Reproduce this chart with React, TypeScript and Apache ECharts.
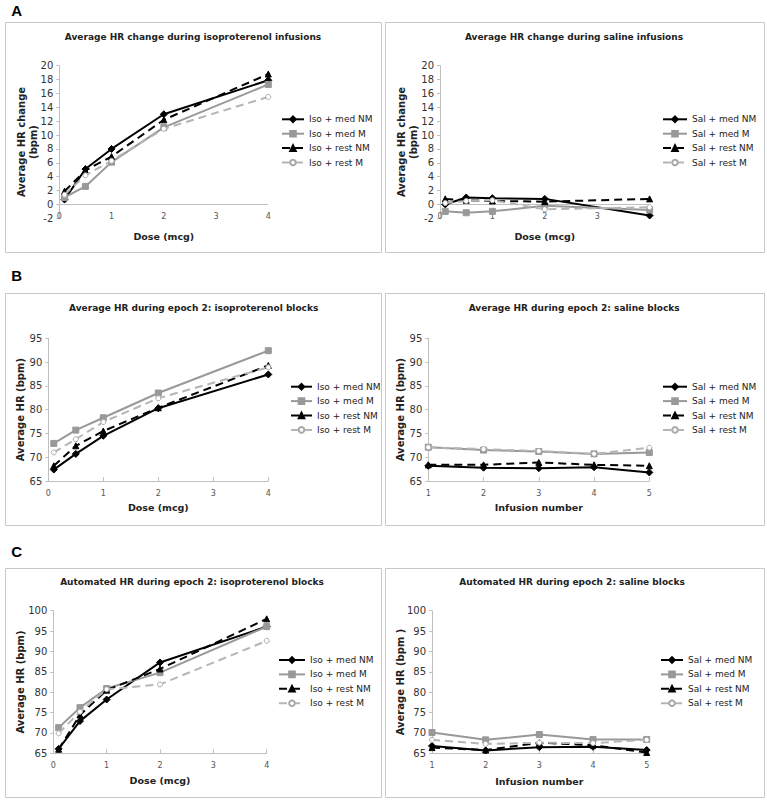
import React, { useEffect, useRef } from "react";
import * as echarts from "echarts";

// ---------- data ----------
const doseX = [0.1, 0.5, 1, 2, 4];
const infusionX = [1, 2, 3, 4, 5];

const isoNames = ["Iso + med NM", "Iso + med M", "Iso + rest NM", "Iso + rest M"];
const salNames = ["Sal + med NM", "Sal + med M", "Sal + rest NM", "Sal + rest M"];

// A: average HR change
const isoChangeMedNM = [0.7, 5.1, 8.0, 13.0, 17.9];
const isoChangeMedM = [1.0, 2.6, 6.1, 11.1, 17.3];
const isoChangeRestNM = [1.9, 4.9, 6.9, 12.2, 18.8];
const isoChangeRestM = [1.4, 4.2, 6.3, 10.9, 15.5];

const salChangeMedNM = [0.0, 1.0, 0.9, 0.8, -1.6];
const salChangeMedM = [-1.0, -1.2, -1.0, -0.2, -0.8];
const salChangeRestNM = [0.8, 0.6, 0.5, 0.4, 0.8];
const salChangeRestM = [0.2, 0.5, 0.6, -0.7, -0.4];

// B: average HR during epoch 2
const isoHRMedNM = [67.4, 70.7, 74.5, 80.3, 87.4];
const isoHRMedM = [72.9, 75.7, 78.3, 83.5, 92.4];
const isoHRRestNM = [68.2, 72.4, 75.5, 80.4, 89.3];
const isoHRRestM = [71.0, 73.8, 77.4, 82.4, 88.9];

const salHRMedNM = [68.2, 67.8, 67.7, 67.9, 66.8];
const salHRMedM = [72.1, 71.5, 71.2, 70.7, 71.0];
const salHRRestNM = [68.4, 68.4, 68.9, 68.4, 68.2];
const salHRRestM = [72.1, 71.7, 71.3, 70.7, 72.0];

// C: automated HR during epoch 2
const autoIsoMedNM = [66.1, 72.9, 78.2, 87.3, 96.1];
const autoIsoMedM = [71.3, 76.2, 80.9, 84.8, 96.1];
const autoIsoRestNM = [66.0, 74.4, 80.5, 85.7, 98.0];
const autoIsoRestM = [69.9, 75.2, 80.7, 81.9, 92.6];

const autoSalMedNM = [66.8, 65.7, 66.5, 66.6, 65.8];
const autoSalMedM = [70.1, 68.3, 69.6, 68.4, 68.4];
const autoSalRestNM = [66.4, 65.8, 67.6, 67.0, 65.2];
const autoSalRestM = [68.3, 67.3, 67.6, 67.5, 68.3];

const titles = [
  "Average HR change during isoproterenol infusions",
  "Average HR change during saline infusions",
  "Average HR during epoch 2: isoproterenol blocks",
  "Average HR during epoch 2: saline blocks",
  "Automated HR during epoch 2: isoproterenol blocks",
  "Automated HR during epoch 2: saline blocks",
];
const yNames = [
  "Average HR change\n(bpm)",
  "Average HR change\n(bpm)",
  "Average HR (bpm)",
  "Average HR (bpm)",
  "Average HR (bpm)",
  "Average HR (bpm )",
];
const xNames = ["Dose (mcg)", "Dose (mcg)", "Dose (mcg)", "Infusion number", "Dose (mcg)", "Infusion number"];
const panelLetters = ["A", "B", "C"];

// ---------- layout / style ----------
const FONT = "'DejaVu Sans', Verdana, sans-serif";
const AXIS_GRAY = "#c0c0c0";

const seriesStyles = [
  { line: "#000000", fill: "#000000", border: "#000000", symbol: "diamond", size: 7, type: "solid" as any },
  { line: "#999999", fill: "#999999", border: "#999999", symbol: "rect", size: 6, type: "solid" as any },
  { line: "#000000", fill: "#000000", border: "#000000", symbol: "triangle", size: 6, type: [8, 5] as any },
  { line: "#b5b5b5", fill: "#ffffff", border: "#aaaaaa", symbol: "circle", size: 5, type: [8, 5] as any },
];

type Panel = {
  grid: { left: number; top: number; width: number; height: number };
  xs: number[];
  xMin: number;
  xMax: number;
  hideX?: number;
  yMin: number;
  yMax: number;
  yInt: number;
  yGap: number;
  xGap: number;
  names: string[];
  values: number[][];
  legend: { left: number; top: number; width: number };
  titlePos: [number, number];
};

const panels: Panel[] = [
  {
    grid: { left: 59.3, top: 65.7, width: 209, height: 152.6 },
    xs: doseX, xMin: 0, xMax: 4, yMin: -2, yMax: 20, yInt: 2, yGap: 20, xGap: 13,
    names: isoNames,
    values: [isoChangeMedNM, isoChangeMedM, isoChangeRestNM, isoChangeRestM],
    legend: { left: 281, top: 114.8, width: 22 },
    titlePos: [193, 36.7],
  },
  {
    grid: { left: 440, top: 65.7, width: 209.6, height: 152.6 },
    xs: doseX, xMin: 0, xMax: 4, hideX: 4, yMin: -2, yMax: 20, yInt: 2, yGap: 21, xGap: 13,
    names: salNames,
    values: [salChangeMedNM, salChangeMedM, salChangeRestNM, salChangeRestM],
    legend: { left: 662, top: 114.8, width: 24 },
    titlePos: [574, 36.7],
  },
  {
    grid: { left: 48.3, top: 338.3, width: 220, height: 142.7 },
    xs: doseX, xMin: 0, xMax: 4, yMin: 65, yMax: 95, yInt: 5, yGap: 22, xGap: 21.8,
    names: isoNames,
    values: [isoHRMedNM, isoHRMedM, isoHRRestNM, isoHRRestM],
    legend: { left: 290, top: 382.2, width: 21 },
    titlePos: [193.7, 308.3],
  },
  {
    grid: { left: 428.3, top: 338.3, width: 221, height: 142.7 },
    xs: infusionX, xMin: 1, xMax: 5, yMin: 65, yMax: 95, yInt: 5, yGap: 22, xGap: 21.8,
    names: salNames,
    values: [salHRMedNM, salHRMedM, salHRRestNM, salHRRestM],
    legend: { left: 662, top: 382.2, width: 24 },
    titlePos: [574.2, 308.3],
  },
  {
    grid: { left: 53.3, top: 610.7, width: 213.4, height: 142.6 },
    xs: doseX, xMin: 0, xMax: 4, yMin: 65, yMax: 100, yInt: 5, yGap: 27, xGap: 22.2,
    names: isoNames,
    values: [autoIsoMedNM, autoIsoMedM, autoIsoRestNM, autoIsoRestM],
    legend: { left: 278, top: 655.5, width: 26 },
    titlePos: [192, 582.3],
  },
  {
    grid: { left: 432, top: 610.7, width: 214.7, height: 142.6 },
    xs: infusionX, xMin: 1, xMax: 5, yMin: 65, yMax: 100, yInt: 5, yGap: 26, xGap: 22.9,
    names: salNames,
    values: [autoSalMedNM, autoSalMedM, autoSalRestNM, autoSalRestM],
    legend: { left: 660, top: 655.5, width: 22 },
    titlePos: [572, 582.3],
  },
];

const boxes = [
  { x: 5, y: 22, w: 376, h: 230 },
  { x: 385, y: 22, w: 379, h: 230 },
  { x: 5, y: 293, w: 376, h: 232 },
  { x: 385, y: 293, w: 379, h: 232 },
  { x: 5, y: 568, w: 376, h: 229 },
  { x: 385, y: 568, w: 379, h: 229 },
];
const letterPos: [number, number][] = [
  [16.7, 10],
  [16.7, 275],
  [16.7, 551.7],
];

function buildOption() {
  const grid: any[] = [];
  const xAxis: any[] = [];
  const yAxis: any[] = [];
  const series: any[] = [];
  const legend: any[] = [];
  const graphic: any[] = [];

  boxes.forEach((b) => {
    graphic.push({
      type: "rect",
      shape: { x: b.x + 0.5, y: b.y + 0.5, width: b.w, height: b.h },
      style: { fill: "#ffffff", stroke: "#c8c8c8", lineWidth: 1 },
      z: -10,
    });
  });
  panelLetters.forEach((l, i) => {
    graphic.push({
      type: "text",
      x: letterPos[i][0],
      y: letterPos[i][1],
      style: {
        text: l,
        fill: "#000",
        font: "bold 15px 'Liberation Sans', Arial, sans-serif",
        textAlign: "center",
        textVerticalAlign: "middle",
        align: "center",
        verticalAlign: "middle",
      },
    });
  });

  panels.forEach((p, i) => {
    const crossesZero = p.yMin < 0;
    grid.push({ ...p.grid, containLabel: false });
    graphic.push({
      type: "text",
      x: p.titlePos[0],
      y: p.titlePos[1],
      style: {
        text: titles[i],
        fill: "#222",
        font: `bold 9px ${FONT}`,
        textAlign: "center",
        textVerticalAlign: "middle",
        align: "center",
        verticalAlign: "middle",
      },
    });
    xAxis.push({
      type: "value",
      gridIndex: i,
      min: p.xMin,
      max: p.xMax,
      interval: 1,
      name: xNames[i],
      nameLocation: "middle",
      nameGap: p.xGap,
      nameMoveOverlap: false,
      nameTextStyle: { fontFamily: FONT, fontWeight: "bold", fontSize: 9.5, color: "#222" },
      axisLine: { show: !crossesZero, onZero: false, lineStyle: { color: AXIS_GRAY, width: 1 } },
      axisTick: { show: !crossesZero, inside: true, length: 4, lineStyle: { color: AXIS_GRAY } },
      axisLabel: {
        fontFamily: FONT,
        fontSize: 8,
        color: "#555",
        margin: crossesZero ? -5.6 : 8,
        formatter: (v: number) => (p.hideX !== undefined && v === p.hideX ? "" : String(v)),
      },
      splitLine: { show: false },
    });
    yAxis.push({
      type: "value",
      gridIndex: i,
      min: p.yMin,
      max: p.yMax,
      interval: p.yInt,
      name: yNames[i],
      nameLocation: "middle",
      nameRotate: 90,
      nameGap: p.yGap,
      nameMoveOverlap: false,
      nameTextStyle: { fontFamily: FONT, fontWeight: "bold", fontSize: 10, color: "#222", lineHeight: 12 },
      axisLine: { show: true, lineStyle: { color: AXIS_GRAY, width: 1 } },
      axisTick: { show: true, inside: false, length: 3, lineStyle: { color: AXIS_GRAY } },
      axisLabel: { fontFamily: FONT, fontSize: 10, color: "#333", margin: 6 },
      splitLine: { show: false },
    });
    p.names.forEach((name, k) => {
      const s = seriesStyles[k];
      const ser: any = {
        type: "line",
        name,
        xAxisIndex: i,
        yAxisIndex: i,
        data: p.xs.map((x, j) => [x, p.values[k][j]]),
        symbol: s.symbol,
        symbolSize: s.size,
        showAllSymbol: true,
        lineStyle: { color: s.line, width: 2, type: s.type },
        itemStyle: { color: s.fill, borderColor: s.border, borderWidth: 1 },
        emphasis: { disabled: true },
        silent: true,
        z: 2 + k,
      };
      if (k === 0 && crossesZero) {
        ser.markLine = {
          silent: true,
          symbol: ["none", "none"],
          label: { show: false },
          lineStyle: { color: AXIS_GRAY, width: 1, type: "solid" },
          emphasis: { disabled: true },
          data: [{ yAxis: 0 }],
          z: 1,
        };
      }
      series.push(ser);
    });
    legend.push({
      orient: "vertical",
      left: p.legend.left,
      top: p.legend.top,
      padding: 0,
      itemWidth: p.legend.width,
      itemHeight: 7,
      itemGap: 5.4,
      selectedMode: false,
      textStyle: { fontFamily: FONT, fontSize: 9, color: "#222" },
      data: p.names,
    });
  });

  return {
    animation: false,
    backgroundColor: "#ffffff",
    grid,
    xAxis,
    yAxis,
    series,
    legend,
    graphic,
  };
}

export default function App() {
  const ref = useRef<HTMLDivElement>(null);
  useEffect(() => {
    if (!ref.current) return;
    const chart = echarts.init(ref.current, undefined, { renderer: "svg" });
    chart.setOption(buildOption() as any);
    return () => chart.dispose();
  }, []);
  return (
    <div
      ref={ref}
      style={{ position: "absolute", left: 0, top: 0, width: 767, height: 801, background: "#fff" }}
    />
  );
}
